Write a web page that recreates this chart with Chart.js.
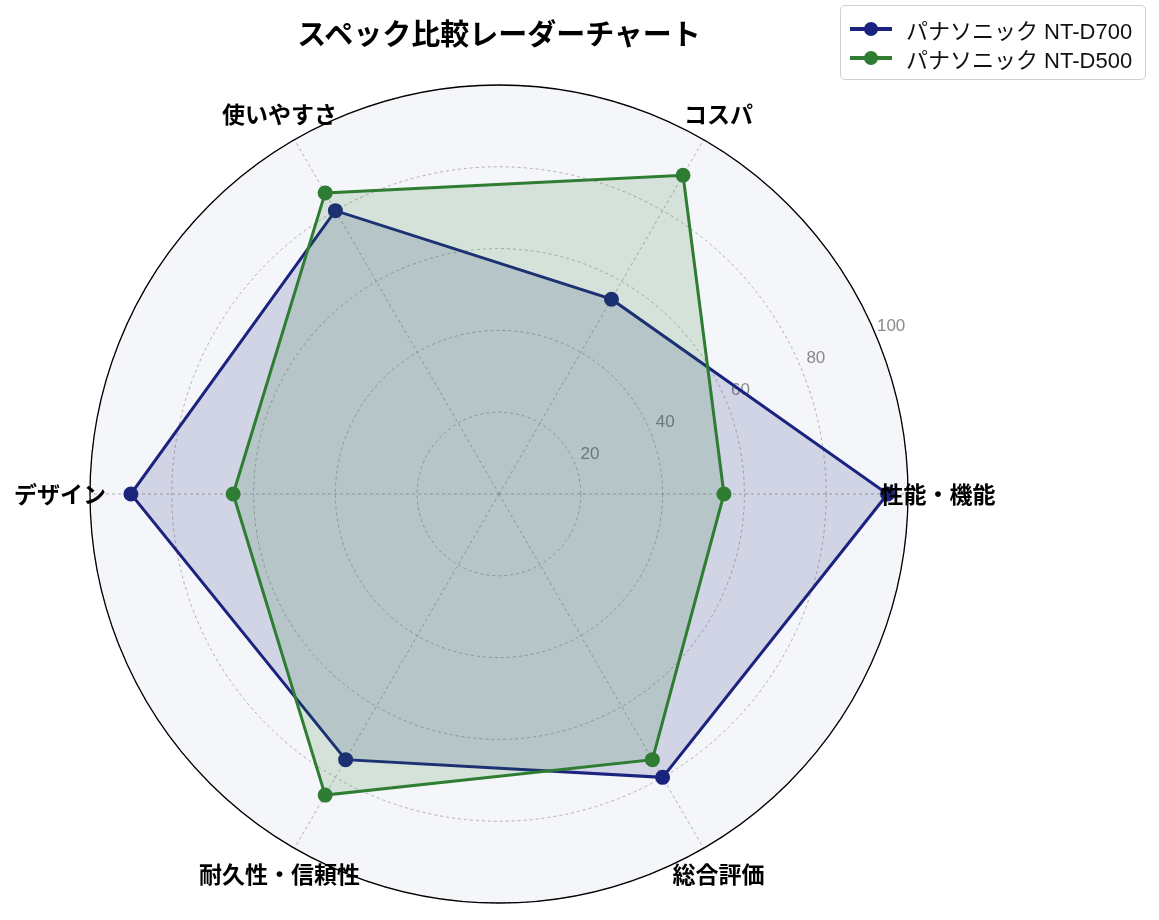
<!DOCTYPE html>
<html>
<head>
<meta charset="utf-8">
<script src="https://cdn.jsdelivr.net/npm/chart.js@4.4.0/dist/chart.umd.min.js"></script>
<style>
    body { margin: 0; background: #fff; font-family: "Liberation Sans", "Noto Sans CJK JP", sans-serif; }
    #wrap { position: relative; width: 1159px; height: 920px; }
    #radar { position: absolute; left: 0; top: 0; }
    #title { position: absolute; left: 0; width: 998px; top: 11px; text-align: center; font-weight: bold; font-size: 29px; color: #000;
             font-family: "Noto Sans CJK JP", sans-serif; }
    #legend { position: absolute; left: 840px; top: 5px; width: 306px; height: 75px; box-sizing: border-box;
              border: 1.5px solid #d0d0d0; border-radius: 5px; background: rgba(255,255,255,0.9); padding-top: 8px; }
    .row { display: flex; align-items: center; height: 29px; font-size: 22px; color: #111; }
    .mark { position: relative; width: 42px; height: 29px; margin-left: 9px; margin-right: 14px; }
    .mark .ln { position: absolute; left: 0; right: 0; top: 13px; height: 4px; }
    .mark .dot { position: absolute; left: 14px; top: 8px; width: 14px; height: 14px; border-radius: 50%; }
</style>
</head>
<body>
<div id="wrap">
    <canvas id="radar" width="1159" height="920"></canvas>
    <div id="title">スペック比較レーダーチャート</div>
    <div id="legend"></div>
</div>
<script>
// categories, counterclockwise starting at the right
const categories = ['性能・機能', 'コスパ', '使いやすさ', 'デザイン', '耐久性・信頼性', '総合評価'];
const seriesNames = ['パナソニック NT-D700', 'パナソニック NT-D500'];
const valuesD700 = [95, 55, 80, 90, 75, 80];
const valuesD500 = [55, 90, 85, 65, 85, 75];
const tickValues = [20, 40, 60, 80, 100];

const lineColors = ['#1a237e', '#2e7d32'];
const fillColors = ['rgba(26, 35, 126, 0.16)', 'rgba(46, 125, 50, 0.16)'];

// Chart.js goes clockwise, so reorder: right, then down-right, ...
const order = [0, 5, 4, 3, 2, 1];
const pick = arr => order.map(i => arr[i]);

// Legend
const legend = document.getElementById('legend');
seriesNames.forEach((name, i) => {
    const row = document.createElement('div');
    row.className = 'row';
    row.innerHTML = `<span class="mark"><span class="ln" style="background:${lineColors[i]}"></span>` +
        `<span class="dot" style="background:${lineColors[i]}"></span></span><span>${name}</span>`;
    legend.appendChild(row);
});

const FONT = '"Noto Sans CJK JP", sans-serif';

const polarDecor = {
    id: 'polarDecor',
    beforeDraw(chart) {
        const s = chart.scales.r;
        const ctx = chart.ctx;
        ctx.save();
        ctx.beginPath();
        ctx.arc(s.xCenter, s.yCenter, s.drawingArea, 0, Math.PI * 2);
        ctx.fillStyle = '#f5f6fa';
        ctx.fill();
        ctx.restore();
    },
    beforeDatasetsDraw(chart) {
        const s = chart.scales.r;
        const ctx = chart.ctx;
        ctx.save();
        // outer spine
        ctx.beginPath();
        ctx.arc(s.xCenter, s.yCenter, s.drawingArea, 0, Math.PI * 2);
        ctx.strokeStyle = '#000';
        ctx.lineWidth = 1.3;
        ctx.setLineDash([]);
        ctx.stroke();
        // radial tick labels near 22.5deg
        const a = 23 * Math.PI / 180;
        ctx.font = '17px "Liberation Sans", sans-serif';
        ctx.fillStyle = '#8a8a8a';
        ctx.textAlign = 'center';
        ctx.textBaseline = 'middle';
        tickValues.forEach(v => {
            const d = s.getDistanceFromCenterForValue(v) + 17;
            ctx.fillText(String(v), s.xCenter + d * Math.cos(a), s.yCenter - d * Math.sin(a) - 1);
        });
        ctx.restore();
    },
    afterDraw(chart) {
        const s = chart.scales.r;
        const ctx = chart.ctx;
        ctx.save();
        ctx.font = 'bold 23px ' + FONT;
        ctx.fillStyle = '#000';
        ctx.textAlign = 'center';
        ctx.textBaseline = 'middle';
        chart.data.labels.forEach((lab, i) => {
            const p = s.getPointPosition(i, s.drawingArea + 30);
            ctx.fillText(lab, p.x, p.y);
        });
        ctx.restore();
    }
};

new Chart(document.getElementById('radar'), {
    type: 'radar',
    data: {
        labels: pick(categories),
        datasets: [
            {
                label: seriesNames[0],
                data: pick(valuesD700),
                borderColor: lineColors[0],
                backgroundColor: fillColors[0],
                pointBackgroundColor: lineColors[0],
                pointBorderColor: lineColors[0],
                borderWidth: 3,
                pointRadius: 6,
                fill: true,
                order: 1
            },
            {
                label: seriesNames[1],
                data: pick(valuesD500),
                borderColor: lineColors[1],
                backgroundColor: fillColors[1],
                pointBackgroundColor: lineColors[1],
                pointBorderColor: lineColors[1],
                borderWidth: 3,
                pointRadius: 6,
                fill: true,
                order: 0
            }
        ]
    },
    options: {
        responsive: false,
        animation: false,
        layout: { padding: { left: 90, right: 251, top: 85, bottom: 17 } },
        plugins: {
            legend: { display: false },
            title: { display: false },
            tooltip: { enabled: false }
        },
        scales: {
            r: {
                min: 0,
                max: 100,
                startAngle: 90,
                ticks: { stepSize: 20, display: false },
                pointLabels: { display: false },
                grid: { circular: true, color: '#a0a0a0', lineWidth: 0.8 },
                border: { dash: [3, 3] },
                angleLines: { display: true, color: '#a0a0a0', lineWidth: 0.8, borderDash: [3, 3] }
            }
        }
    },
    plugins: [polarDecor]
});
</script>
</body>
</html>
